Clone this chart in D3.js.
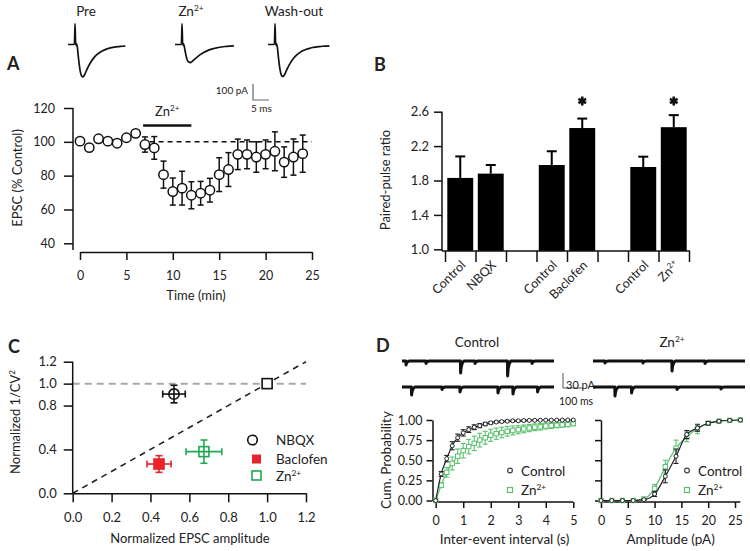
<!DOCTYPE html>
<html><head><meta charset="utf-8">
<script src="https://cdn.jsdelivr.net/npm/d3@7"></script>
<style>
body{margin:0;background:#fff}
svg{display:block}
text{font-family:Lato,"Open Sans",sans-serif;fill:#222}
</style>
</head><body>
<svg id="fig" width="750" height="551"></svg>
<script>
// ---------------- DATA ----------------
// Panel A: EPSC time course
const timeMin = [0,1,2,3,4,5,6,7,8,9,10,11,12,13,14,15,16,17,18,19,20,21,22,23,24];
const epscPct = [100.4,96.6,101.8,100.4,99.2,102.4,105,98.4,96.4,80.6,70.6,72.6,68.4,69.6,71.4,80.6,83.6,92.6,92.6,91,92.6,94.4,88,91,93];
const epscErr = [1.5,1.5,2,1.5,1.5,2,1.5,4.5,6.7,8,8,10,8,7,7,10,10,9,8.5,9,8.5,11.5,9,10.7,11];
const znApplication = [6.8, 12];
const epscTicksY = [40,60,80,100,120];
const epscTicksX = [0,5,10,15,20,25];
// Panel A: example EPSC traces [ms, pA]
const tracePre = [[0,0],[2.0,1],[2.2,130],[2.4,-4],[2.6,6],[2.9,-15],[3.3,-90],[3.8,-165],[4.3,-198],[4.7,-202],[5.2,-188],[6,-152],[7,-114],[8,-85],[9,-64],[10,-48],[11,-37],[12,-29],[13,-23],[14,-18],[15,-15],[16,-13],[17,-11],[17.9,-10]];
const traceZn = [[0,0],[2.0,1],[2.2,130],[2.4,-4],[2.6,6],[2.9,-12],[3.3,-55],[3.8,-95],[4.3,-110],[4.8,-113],[5.3,-107],[6,-94],[7,-77],[8,-62],[9,-50],[10,-40],[11,-32],[12,-26],[13,-21],[14,-17],[15,-14],[16,-12],[17,-10],[18.4,-9]];
const traceWash = [[0,0],[2.0,1],[2.2,130],[2.4,-4],[2.6,6],[2.9,-15],[3.3,-88],[3.8,-162],[4.3,-196],[4.7,-200],[5.2,-187],[6,-152],[7,-115],[8,-86],[9,-65],[10,-49],[11,-38],[12,-30],[13,-24],[14,-19],[15,-16],[16,-13],[17,-11],[18,-10],[19.2,-9]];
const traceLabels = ["Pre","Zn","Wash-out"];

// Panel B: paired-pulse ratio
const ppKeys = ["c1","nbqx","g1","c2","bac","g2","c3","zn"];
const ppLabels = ["Control","NBQX","","Control","Baclofen","","Control","Zn"];
const ppValues = [1.83,1.88,null,1.98,2.41,null,1.957,2.42];
const ppErrors = [0.25,0.10,null,0.16,0.11,null,0.12,0.14];
const ppStars = [false,false,false,false,true,false,false,true];
const ppTicks = [1.0,1.4,1.8,2.2,2.6];

// Panel C: 1/CV^2 analysis
const cvNames = ["NBQX","Baclofen","Zn"];
const cvAmp = [0.521,0.444,0.675];
const cvAmpErr = [0.058,0.062,0.092];
const cvInvCV2 = [0.905,0.267,0.38];
const cvInvCV2Err = [0.08,0.076,0.106];
const cvRef = [1.0,1.0];
const cvTicksX = [0,0.2,0.4,0.6,0.8,1.0,1.2];
const cvTicksY = [0,0.4,0.8,1.0,1.2];

// Panel D: cumulative distributions
const intervalX = [0,0.2,0.4,0.6,0.8,1.0,1.2,1.4,1.6,1.8,2.0,2.2,2.4,2.6,2.8,3.0,3.2,3.4,3.6,3.8,4.0,4.2,4.4,4.6,4.8,5.0];
const ctrlInterval = [0,0.33,0.52,0.68,0.78,0.84,0.88,0.91,0.93,0.95,0.965,0.975,0.98,0.985,0.99,0.99,0.993,0.995,0.996,0.997,0.998,0.998,0.999,0.999,1.0,1.0];
const ctrlIntervalErr = [0,0.03,0.04,0.05,0.045,0.04,0.035,0.03,0.025,0.02,0.015,0.012,0.01,0.01,0.008,0.007,0.006,0.005,0.005,0.004,0.004,0.003,0.003,0.002,0.002,0.002];
const znInterval = [0,0.19,0.35,0.46,0.55,0.62,0.67,0.71,0.75,0.78,0.81,0.83,0.845,0.86,0.87,0.88,0.89,0.9,0.91,0.915,0.925,0.93,0.935,0.94,0.945,0.955];
const znIntervalErr = [0,0.03,0.06,0.08,0.09,0.09,0.09,0.09,0.085,0.08,0.075,0.07,0.065,0.06,0.055,0.05,0.048,0.045,0.042,0.04,0.037,0.035,0.032,0.03,0.028,0.025];
const ampX = [0,2,4,6,8,10,12,14,16,18,20,22,24,26];
const ctrlAmp = [0,0,0,0,0.01,0.08,0.3,0.55,0.82,0.9,0.96,0.985,0.995,1.0];
const ctrlAmpErr = [0,0,0,0,0.01,0.03,0.08,0.09,0.05,0.04,0.02,0.01,0.005,0];
const znAmp = [0,0,0,0,0.02,0.15,0.42,0.65,0.79,0.89,0.96,0.985,0.995,1.0];
const znAmpErr = [0,0,0,0,0.01,0.05,0.08,0.1,0.06,0.06,0.02,0.01,0.005,0];
const cdfTicksY = [0,0.25,0.5,0.75,1.0];
const intervalTicks = [0,1,2,3,4,5];
const ampTicks = [0,5,10,15,20,25];
// Panel D: sample sEPSC traces, events as [ms, pA]
const ctrlTrace1Events = [[20,8],[120,5],[293,24],[365,5],[528,30],[650,5]];
const ctrlTrace2Events = [[48,16],[200,5],[290,10],[480,12],[555,14],[678,10]];
const znTrace1Events = [[60,4],[250,4],[395,20],[560,5]];
const znTrace2Events = [[110,18],[193,12],[420,5],[640,4]];
const eventShape = [[-1,0],[0,-1],[3,-0.5],[8,-0.2],[16,0]];
const traceDuration = 760;

// ---------------- HELPERS ----------------
const svg = d3.select("#fig");
const FONT = "Lato, 'Open Sans', sans-serif";
const RED = "#e8232b", GREEN = "#1fa84f", LGREEN = "#5cbf6e";

function znText(sel, base, fs){
  sel.text(null);
  sel.append("tspan").text(base);
  sel.append("tspan").attr("font-size", fs*0.62).attr("dy", -fs*0.38).text("2+");
}
function styleAxis(g, fs){
  g.attr("font-family", FONT).attr("font-size", fs);
  g.selectAll("line,path").attr("stroke","#111").attr("stroke-width",1.5);
  g.selectAll("text").attr("fill","#222");
}
function panelLetter(x,y,t){
  svg.append("text").attr("x",x).attr("y",y).attr("font-size",18).attr("font-weight","bold").attr("fill","#111").text(t);
}

// ---------------- PANEL A ----------------
panelLetter(7,70,"A");
const xA = d3.scaleLinear().domain([0,25]).range([80,312]);
const yA = d3.scaleLinear().domain([40,120]).range([243.3,108]);
const gA = svg.append("g");
const ayA = gA.append("g").attr("transform","translate(73,0)")
  .call(d3.axisLeft(yA).tickValues(epscTicksY).tickSize(9).tickSizeOuter(0).tickPadding(9));
ayA.select(".domain").attr("d",`M0,${yA(120)}V250`);
styleAxis(ayA,12.5);
const axA = gA.append("g").attr("transform","translate(0,252)")
  .call(d3.axisBottom(xA).tickValues(epscTicksX).tickSize(8).tickSizeOuter(0).tickPadding(11));
styleAxis(axA,12.5);
gA.append("text").attr("transform","translate(22,178) rotate(-90)").attr("text-anchor","middle").attr("font-size",13).text("EPSC (% Control)");
gA.append("text").attr("x",196).attr("y",300).attr("text-anchor","middle").attr("font-size",13).text("Time (min)");
gA.append("line").attr("x1",xA(7.5)).attr("x2",xA(25)).attr("y1",yA(100)).attr("y2",yA(100))
  .attr("stroke","#111").attr("stroke-width",1.5).attr("stroke-dasharray","5,4");
gA.append("line").attr("x1",xA(znApplication[0])).attr("x2",xA(znApplication[1])).attr("y1",125.5).attr("y2",125.5)
  .attr("stroke","#111").attr("stroke-width",2.5);
znText(gA.append("text").attr("x",xA((znApplication[0]+znApplication[1])/2)).attr("y",116).attr("text-anchor","middle").attr("font-size",13),"Zn",13);
const ptsA = timeMin.map((t,i)=>({t,v:epscPct[i],e:epscErr[i]}));
const eA = gA.append("g").attr("stroke","#111").attr("stroke-width",1.5);
ptsA.forEach(d=>{
  eA.append("line").attr("x1",xA(d.t)).attr("x2",xA(d.t)).attr("y1",yA(d.v-d.e)).attr("y2",yA(d.v+d.e));
  [d.v-d.e,d.v+d.e].forEach(v=>eA.append("line").attr("x1",xA(d.t)-3).attr("x2",xA(d.t)+3).attr("y1",yA(v)).attr("y2",yA(v)));
});
gA.append("g").selectAll("circle").data(ptsA).join("circle")
  .attr("cx",d=>xA(d.t)).attr("cy",d=>yA(d.v)).attr("r",4.7)
  .attr("fill","#fff").attr("stroke","#111").attr("stroke-width",1.5);

const traceStarts = [68,175,268];
const traceSets = [tracePre,traceZn,traceWash];
const traceLabelX = [86,191,294];
const iA = d3.scaleLinear().domain([0,100]).range([44.5,28.5]);
traceSets.forEach((tr,k)=>{
  const tx = d3.scaleLinear().domain([0,5]).range([traceStarts[k],traceStarts[k]+16]);
  const ln = d3.line().x(d=>tx(d[0])).y(d=>iA(d[1])).curve(d3.curveMonotoneX);
  svg.append("path").attr("d",ln(tr)).attr("fill","none").attr("stroke","#111").attr("stroke-width",1.7);
  const t = svg.append("text").attr("x",traceLabelX[k]).attr("y",16).attr("text-anchor","middle").attr("font-size",13.5);
  if(traceLabels[k]==="Zn") znText(t,"Zn",13.5); else t.text(traceLabels[k]);
});
svg.append("path").attr("d",`M253,84V100H269`).attr("fill","none").attr("stroke","#666").attr("stroke-width",1.2);
svg.append("text").attr("x",248).attr("y",94).attr("text-anchor","end").attr("font-size",10).text("100 pA");
svg.append("text").attr("x",251).attr("y",112).attr("font-size",10).text("5 ms");

// ---------------- PANEL B ----------------
panelLetter(374,71,"B");
const xB = d3.scaleBand().domain(ppKeys).range([445,689]).paddingInner(0.15).paddingOuter(0.075);
const bB = d3.scaleLinear().domain([0,ppKeys.length]).range([445,689]);
const yB = d3.scaleLinear().domain([1.0,2.6]).range([249.3,111.7]);
const gB = svg.append("g");
const barsB = ppKeys.map((k,i)=>({k,v:ppValues[i],e:ppErrors[i],s:ppStars[i],l:ppLabels[i]})).filter(d=>d.v!==null);
gB.selectAll("rect").data(barsB).join("rect")
  .attr("x",d=>xB(d.k)).attr("width",xB.bandwidth())
  .attr("y",d=>yB(d.v)).attr("height",d=>251-yB(d.v)).attr("fill","#000");
barsB.forEach(d=>{
  const cx = xB(d.k)+xB.bandwidth()/2;
  gB.append("line").attr("x1",cx).attr("x2",cx).attr("y1",yB(d.v)).attr("y2",yB(d.v+d.e)).attr("stroke","#000").attr("stroke-width",2);
  gB.append("line").attr("x1",cx-5).attr("x2",cx+5).attr("y1",yB(d.v+d.e)).attr("y2",yB(d.v+d.e)).attr("stroke","#000").attr("stroke-width",2);
  if(d.s) gB.append("path").attr("d",d3.symbol(d3.symbolAsterisk,55)()).attr("transform",`translate(${cx},101)`)
    .attr("stroke","#111").attr("stroke-width",2.6).attr("fill","none");
});
const ayB = gB.append("g").attr("transform","translate(442,0)")
  .call(d3.axisLeft(yB).tickValues(ppTicks).tickFormat(d3.format(".1f")).tickSize(8).tickSizeOuter(0).tickPadding(5));
ayB.select(".domain").attr("d",`M0,${yB(2.6)}V251`);
styleAxis(ayB,13);
const axB = gB.append("g").attr("transform","translate(0,251)")
  .call(d3.axisBottom(bB).tickValues(d3.range(ppKeys.length+1)).tickFormat("").tickSize(11).tickSizeOuter(0));
axB.select(".domain").attr("d","M442,0H690");
styleAxis(axB,12);
ppKeys.forEach((k,i)=>{
  if(!ppLabels[i]) return;
  const cx = xB(k)+xB.bandwidth()/2;
  const t = gB.append("text").attr("transform",`translate(${cx+6},266) rotate(-45)`).attr("text-anchor","end").attr("font-size",12.5);
  if(ppLabels[i]==="Zn") znText(t,"Zn",12.5); else t.text(ppLabels[i]);
});
gB.append("text").attr("transform","translate(390,180) rotate(-90)").attr("text-anchor","middle").attr("font-size",13).text("Paired-pulse ratio");

// ---------------- PANEL C ----------------
panelLetter(8,353,"C");
const xC = d3.scaleLinear().domain([0,1.2]).range([72.7,306]);
const yC = d3.scaleLinear().domain([0,1.2]).range([493.3,361.7]);
const gC = svg.append("g");
gC.append("line").attr("x1",xC(0)).attr("x2",xC(1.2)).attr("y1",yC(1)).attr("y2",yC(1))
  .attr("stroke","#a8a8a8").attr("stroke-width",2).attr("stroke-dasharray","7,5");
gC.append("line").attr("x1",xC(0)).attr("x2",xC(1.2)).attr("y1",yC(0)).attr("y2",yC(1.2))
  .attr("stroke","#222").attr("stroke-width",1.6).attr("stroke-dasharray","6,5");
const ayC = gC.append("g").attr("transform","translate(72.7,0)")
  .call(d3.axisLeft(yC).tickValues(cvTicksY).tickFormat(d3.format(".1f")).tickSize(9).tickSizeOuter(0).tickPadding(7));
ayC.select(".domain").attr("d",`M0,${yC(1.2)}V${yC(0)}`);
styleAxis(ayC,13);
const axC = gC.append("g").attr("transform","translate(0,493.3)")
  .call(d3.axisBottom(xC).tickValues(cvTicksX).tickFormat(d3.format(".1f")).tickSize(9).tickSizeOuter(0).tickPadding(10));
styleAxis(axC,13);
const yl = gC.append("text").attr("transform","translate(20,422) rotate(-90)").attr("text-anchor","middle").attr("font-size",13);
yl.append("tspan").text("Normalized 1/CV");
yl.append("tspan").attr("font-size",8).attr("dy",-5).text("2");
gC.append("text").attr("x",190).attr("y",543).attr("text-anchor","middle").attr("font-size",13).text("Normalized EPSC amplitude");
const cColors = ["#111",RED,GREEN];
cvNames.forEach((n,i)=>{
  const cx=xC(cvAmp[i]), cy=yC(cvInvCV2[i]);
  const g = gC.append("g").attr("stroke",cColors[i]).attr("stroke-width",1.6);
  g.append("line").attr("x1",xC(cvAmp[i]-cvAmpErr[i])).attr("x2",xC(cvAmp[i]+cvAmpErr[i])).attr("y1",cy).attr("y2",cy);
  g.append("line").attr("x1",cx).attr("x2",cx).attr("y1",yC(cvInvCV2[i]-cvInvCV2Err[i])).attr("y2",yC(cvInvCV2[i]+cvInvCV2Err[i]));
  [cvAmp[i]-cvAmpErr[i],cvAmp[i]+cvAmpErr[i]].forEach(v=>g.append("line").attr("x1",xC(v)).attr("x2",xC(v)).attr("y1",cy-3.5).attr("y2",cy+3.5));
  [cvInvCV2[i]-cvInvCV2Err[i],cvInvCV2[i]+cvInvCV2Err[i]].forEach(v=>g.append("line").attr("x1",cx-3.5).attr("x2",cx+3.5).attr("y1",yC(v)).attr("y2",yC(v)));
  if(n==="NBQX") g.append("circle").attr("cx",cx).attr("cy",cy).attr("r",5.2).attr("fill","none");
  else if(n==="Baclofen") g.append("rect").attr("x",cx-5).attr("y",cy-5).attr("width",10).attr("height",10).attr("fill",RED);
  else g.append("rect").attr("x",cx-5).attr("y",cy-5).attr("width",10).attr("height",10).attr("fill","none");
});
gC.append("rect").attr("x",xC(cvRef[0])-5).attr("y",yC(cvRef[1])-5).attr("width",10).attr("height",10)
  .attr("fill","#fff").attr("stroke","#111").attr("stroke-width",1.6);
const legC = gC.append("g");
legC.append("circle").attr("cx",252.5).attr("cy",440).attr("r",4.8).attr("fill","none").attr("stroke","#111").attr("stroke-width",1.6);
legC.append("rect").attr("x",252).attr("y",454.5).attr("width",9).attr("height",9).attr("fill",RED);
legC.append("rect").attr("x",252).attr("y",471).attr("width",9).attr("height",9).attr("fill","none").attr("stroke",GREEN).attr("stroke-width",1.6);
legC.append("text").attr("x",276).attr("y",445).attr("font-size",13.5).text("NBQX");
legC.append("text").attr("x",276).attr("y",464).attr("font-size",13.5).text("Baclofen");
znText(legC.append("text").attr("x",276).attr("y",481).attr("font-size",13.5),"Zn",13.5);

// ---------------- PANEL D ----------------
panelLetter(376,352,"D");
svg.append("text").attr("x",477).attr("y",347).attr("text-anchor","middle").attr("font-size",13.5).text("Control");
znText(svg.append("text").attr("x",672).attr("y",347).attr("text-anchor","middle").attr("font-size",13.5),"Zn",13.5);
const tD = d3.scaleLinear().domain([0,traceDuration]).range([0,152]);
const iD = d3.scaleLinear().domain([0,30]).range([0,15]);
function tracePts(events){
  const pts=[[0,0]];
  events.slice().sort((a,b)=>a[0]-b[0]).forEach(e=>eventShape.forEach(s=>pts.push([e[0]+s[0], -s[1]*e[1]])));
  pts.push([traceDuration,0]);
  return pts;
}
[[ctrlTrace1Events,402,361],[ctrlTrace2Events,402,387],[znTrace1Events,593,361],[znTrace2Events,593,387]].forEach(([ev,x0,y0])=>{
  const ln = d3.line().x(d=>x0+tD(d[0])).y(d=>y0+iD(d[1]));
  svg.append("path").attr("d",ln(tracePts(ev))).attr("fill","none").attr("stroke","#111").attr("stroke-width",3).attr("stroke-linejoin","round");
});
svg.append("path").attr("d",`M563,373V388H${563+tD(100)}`).attr("fill","none").attr("stroke","#555").attr("stroke-width",1);
svg.append("text").attr("x",566).attr("y",389).attr("font-size",11).text("30 pA");
svg.append("text").attr("x",559).attr("y",405).attr("font-size",10.5).text("100 ms");

const yD = d3.scaleLinear().domain([0,1]).range([500.5,420]);
const xD1 = d3.scaleLinear().domain([0,5]).range([435.7,573.3]);
const xD2 = d3.scaleLinear().domain([0,25]).range([601,735]);
function cdfPlot(xS, xs, c, ce, z, ze, yAxisX, showLabels, ticks, xLabel, legX){
  const g = svg.append("g");
  const ay = g.append("g").attr("transform",`translate(${yAxisX},0)`)
    .call(d3.axisLeft(yD).tickValues(cdfTicksY).tickFormat(showLabels?d3.format(".2f"):"").tickSize(6).tickSizeOuter(0).tickPadding(4));
  styleAxis(ay,12.5);
  const ax = g.append("g").attr("transform","translate(0,502)")
    .call(d3.axisBottom(xS).tickValues(ticks).tickFormat(d3.format("d")).tickSize(6).tickSizeOuter(0).tickPadding(8));
  ax.select(".domain").attr("d",`M${xS(0)},0H${xS(xs[xs.length-1])}`);
  styleAxis(ax,12.5);
  g.append("text").attr("x",(xS(0)+xS(xs[xs.length-1]))/2).attr("y",544).attr("text-anchor","middle").attr("font-size",13.5).text(xLabel);
  const series = [[z,ze,LGREEN,"sq"],[c,ce,"#222","ci"]];
  series.forEach(([v,e,col,shape])=>{
    const pts = xs.map((x,i)=>({x,v:v[i],e:e[i]}));
    g.append("path").attr("d",d3.line().x(d=>xS(d.x)).y(d=>yD(d.v)).curve(d3.curveMonotoneX)(pts))
      .attr("fill","none").attr("stroke",col).attr("stroke-width",1.2);
    const eg = g.append("g").attr("stroke",col).attr("stroke-width",1.1);
    pts.forEach(d=>{ if(d.e>0.004){
      eg.append("line").attr("x1",xS(d.x)).attr("x2",xS(d.x)).attr("y1",yD(d.v-d.e)).attr("y2",yD(d.v+d.e));
      [d.v-d.e,d.v+d.e].forEach(w=>eg.append("line").attr("x1",xS(d.x)-2.5).attr("x2",xS(d.x)+2.5).attr("y1",yD(w)).attr("y2",yD(w)));
    }});
    if(shape==="sq") g.append("g").selectAll("rect").data(pts).join("rect")
      .attr("x",d=>xS(d.x)-2.2).attr("y",d=>yD(d.v)-2.2).attr("width",4.4).attr("height",4.4)
      .attr("fill","#fff").attr("stroke",col).attr("stroke-width",1);
    else g.append("g").selectAll("circle").data(pts).join("circle")
      .attr("cx",d=>xS(d.x)).attr("cy",d=>yD(d.v)).attr("r",2)
      .attr("fill","#fff").attr("stroke",col).attr("stroke-width",1);
  });
  g.append("circle").attr("cx",legX).attr("cy",470.5).attr("r",2.4).attr("fill","none").attr("stroke","#444").attr("stroke-width",1.2);
  g.append("rect").attr("x",legX-2.5).attr("y",487.5).attr("width",5).attr("height",5).attr("fill","none").attr("stroke",LGREEN).attr("stroke-width",1.2);
  g.append("text").attr("x",legX+11).attr("y",475.5).attr("font-size",13.5).text("Control");
  znText(g.append("text").attr("x",legX+11).attr("y",495).attr("font-size",13.5),"Zn",13.5);
  return g;
}
cdfPlot(xD1, intervalX, ctrlInterval, ctrlIntervalErr, znInterval, znIntervalErr, 432.5, true, intervalTicks, "Inter-event interval (s)", 510);
cdfPlot(xD2, ampX, ctrlAmp, ctrlAmpErr, znAmp, znAmpErr, 601, false, ampTicks, "Amplitude (pA)", 687);
svg.append("text").attr("transform","translate(391,460) rotate(-90)").attr("text-anchor","middle").attr("font-size",13.5).text("Cum. Probability");
</script>
</body></html>
